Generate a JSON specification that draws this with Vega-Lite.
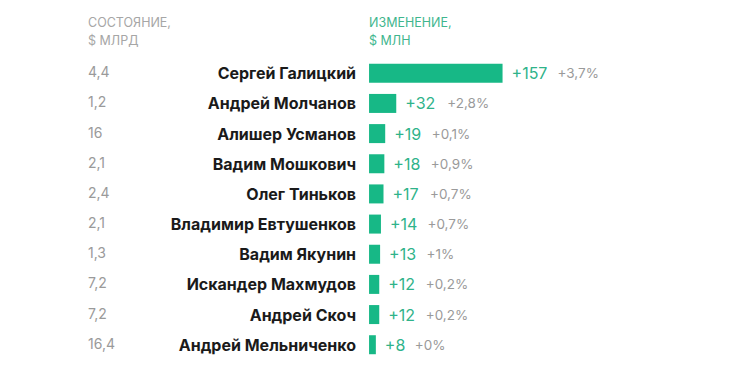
{
  "$schema": "https://vega.github.io/schema/vega-lite/v6.json",
  "width": 750,
  "height": 336,
  "autosize": {"type": "none"},
  "padding": {"top": 41, "left": 0, "right": 0, "bottom": 0},
  "background": "white",
  "config": {
    "view": {"stroke": null},
    "font": "Inter",
    "locale": {"number": {"decimal": ",", "thousands": " ", "grouping": [3], "currency": ["", "$"]}}
  },
  "data": {
    "values": [
      {"name": "Сергей Галицкий", "wealth": 4.4, "change": 157, "pct": 0.037},
      {"name": "Андрей Молчанов", "wealth": 1.2, "change": 32, "pct": 0.028},
      {"name": "Алишер Усманов", "wealth": 16, "change": 19, "pct": 0.001},
      {"name": "Вадим Мошкович", "wealth": 2.1, "change": 18, "pct": 0.009},
      {"name": "Олег Тиньков", "wealth": 2.4, "change": 17, "pct": 0.007},
      {"name": "Владимир Евтушенков", "wealth": 2.1, "change": 14, "pct": 0.007},
      {"name": "Вадим Якунин", "wealth": 1.3, "change": 13, "pct": 0.01},
      {"name": "Искандер Махмудов", "wealth": 7.2, "change": 12, "pct": 0.002},
      {"name": "Андрей Скоч", "wealth": 7.2, "change": 12, "pct": 0.002},
      {"name": "Андрей Мельниченко", "wealth": 16.4, "change": 8, "pct": 0}
    ]
  },
  "encoding": {
    "y": {
      "field": "name",
      "type": "nominal",
      "sort": null,
      "axis": null,
      "scale": {"paddingInner": 0.37, "paddingOuter": 0.755}
    }
  },
  "layer": [
    {
      "mark": {"type": "bar", "color": "#17b886"},
      "encoding": {
        "x": {
          "field": "change",
          "type": "quantitative",
          "axis": null,
          "scale": {"domain": [-434, 448], "nice": false, "zero": false}
        }
      }
    },
    {
      "mark": {"type": "text", "align": "right", "baseline": "middle", "dx": -13, "dy": 1, "fontWeight": "bold", "fontSize": 16, "color": "#1a1a1a"},
      "encoding": {
        "x": {"datum": 0, "type": "quantitative"},
        "text": {"field": "name"}
      }
    },
    {
      "mark": {"type": "text", "align": "left", "baseline": "middle", "dy": 0, "fontSize": 14, "color": "#9a9a9a"},
      "encoding": {
        "x": {"datum": -330.5, "type": "quantitative"},
        "text": {"field": "wealth", "type": "quantitative", "format": ".1~f"}
      }
    },
    {
      "mark": {"type": "text", "align": "left", "baseline": "middle", "dx": 9, "dy": 1, "fontSize": 16, "color": "#2fb38a"},
      "encoding": {
        "x": {"field": "change", "type": "quantitative"},
        "text": {"field": "change", "type": "quantitative", "format": "+d"}
      }
    },
    {
      "mark": {
        "type": "text", "align": "left", "baseline": "middle", "dy": 1, "fontSize": 13.5, "color": "#9a9a9a",
        "dx": {"expr": "datum.change >= 100 ? 55 : (datum.change >= 20 ? 51 : (datum.change >= 10 ? 46.5 : 39))"}
      },
      "encoding": {
        "x": {"field": "change", "type": "quantitative"},
        "text": {"field": "pct", "type": "quantitative", "format": "+.1~%"}
      }
    },
    {
      "data": {"values": [{}]},
      "mark": {"type": "text", "align": "left", "baseline": "alphabetic", "dy": -46.3, "fontSize": 12.5, "lineHeight": 18, "lineBreak": "\n", "color": "#a6a6a6"},
      "encoding": {
        "x": {"datum": -330.5, "type": "quantitative"},
        "y": {"datum": "Сергей Галицкий", "type": "nominal"},
        "text": {"value": "СОСТОЯНИЕ,\n$ МЛРД"}
      }
    },
    {
      "data": {"values": [{}]},
      "mark": {"type": "text", "align": "left", "baseline": "alphabetic", "dy": -46.3, "fontSize": 12.5, "lineHeight": 18, "lineBreak": "\n", "color": "#3fb68e"},
      "encoding": {
        "x": {"datum": 0, "type": "quantitative"},
        "y": {"datum": "Сергей Галицкий", "type": "nominal"},
        "text": {"value": "ИЗМЕНЕНИЕ,\n$ МЛН"}
      }
    }
  ]
}
